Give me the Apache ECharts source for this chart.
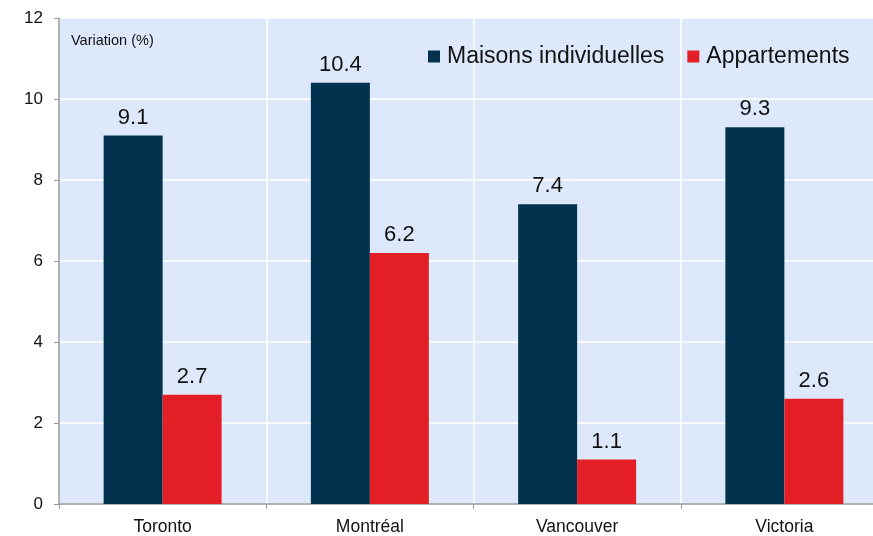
<!DOCTYPE html>
<html><head><meta charset="utf-8">
<script src="https://cdn.jsdelivr.net/npm/echarts@6/dist/echarts.min.js"></script>
<style>html,body{margin:0;padding:0;background:#fff;overflow:hidden;width:873px;height:536px}#c{width:888px;height:536px}</style>
</head><body><div id="c"></div>
<script>
const categories = ['Toronto', 'Montréal', 'Vancouver', 'Victoria'];
const maisons = [9.1, 10.4, 7.4, 9.3];
const appartements = [2.7, 6.2, 1.1, 2.6];
const seriesNames = ['Maisons individuelles', 'Appartements'];
const yTicks = [0, 2, 4, 6, 8, 10, 12];

const chart = echarts.init(document.getElementById('c'), null, {renderer: 'canvas'});
const font = 'Liberation Sans, Arial, sans-serif';
const lbl = {show: true, position: 'top', distance: 7, color: '#111', fontSize: 22, fontFamily: font, formatter: p => p.value.toFixed(1)};
chart.setOption({
  animation: false,
  textStyle: {fontFamily: font},
  grid: {left: 59, top: 18, width: 829, height: 488.5, containLabel: false, show: true, backgroundColor: '#dde9fa', borderWidth: 0},
  legend: {
    data: seriesNames, left: 423, top: 40, itemWidth: 12, itemHeight: 12, itemGap: 23, icon: 'rect',
    textStyle: {fontSize: 23, color: '#111', fontFamily: font, padding: [0, 0, 0, 2]}
  },
  graphic: [{type: 'text', left: 71, top: 33, style: {text: 'Variation (%)', fontSize: 14.5, fill: '#111', fontFamily: font}}],
  xAxis: {
    type: 'category', data: categories,
    axisLine: {lineStyle: {color: '#999', width: 1.5}},
    axisTick: {show: true, length: 5, lineStyle: {color: '#999'}},
    axisLabel: {fontSize: 17.5, color: '#111', margin: 14, fontFamily: font},
    splitLine: {show: true, lineStyle: {color: '#ffffff', width: 1.5}}
  },
  yAxis: {
    type: 'value', min: yTicks[0], max: yTicks[yTicks.length - 1], interval: 2,
    axisLine: {show: true, lineStyle: {color: '#999', width: 1.5}},
    axisTick: {show: true, length: 5, lineStyle: {color: '#999'}},
    axisLabel: {fontSize: 17, color: '#111', margin: 16, fontFamily: font},
    splitLine: {show: true, lineStyle: {color: '#ffffff', width: 1.5}}
  },
  series: [
    {name: seriesNames[0], type: 'bar', data: maisons, barWidth: 59, barGap: '0%', itemStyle: {color: '#02324e'}, label: lbl},
    {name: seriesNames[1], type: 'bar', data: appartements, barWidth: 59, barGap: '0%', itemStyle: {color: '#e31e24'}, label: lbl}
  ]
});
</script></body></html>
